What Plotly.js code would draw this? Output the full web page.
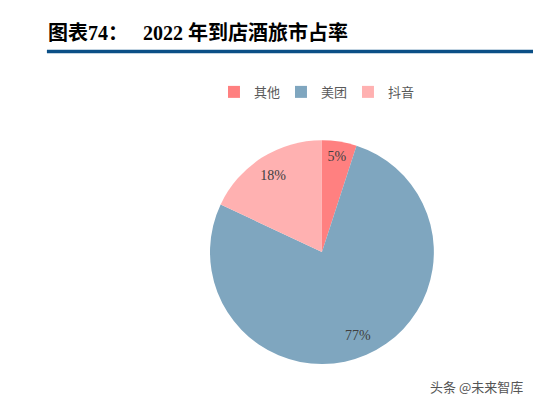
<!DOCTYPE html>
<html><head><meta charset="utf-8">
<script src="https://cdn.plot.ly/plotly-3.0.1.min.js"></script>
<style>html,body{margin:0;padding:0;background:#fff;}#c{width:533px;height:405px;}</style>
</head><body><div id="c"></div>
<script>
const categories = ['其他', '美团', '抖音'];
const shares = [5, 77, 18];
const labelsText = ['5%', '77%', '18%'];
const colors = ['#FF8080', '#7FA6BF', '#FFB1B1'];

const dom = {x: [0.394, 0.814], y: [0.1, 0.655]};

const pieMain = {
  type: 'pie', labels: categories, values: shares, sort: false,
  direction: 'clockwise', rotation: 0, domain: dom,
  marker: {colors: colors, line: {width: 0}},
  textinfo: 'none', hoverinfo: 'none'
};
const pieText = {
  type: 'pie', labels: categories, values: shares, sort: false,
  direction: 'clockwise', rotation: 0, domain: dom, hole: 0.62,
  marker: {colors: ['rgba(0,0,0,0)','rgba(0,0,0,0)','rgba(0,0,0,0)'], line: {width: 0}},
  text: labelsText, textinfo: 'text', textposition: 'inside',
  insidetextorientation: 'horizontal',
  textfont: {family: 'Liberation Serif', size: 14, color: '#404040'},
  showlegend: false, hoverinfo: 'none'
};

const layout = {
  width: 533, height: 405,
  margin: {l: 0, r: 0, t: 0, b: 0},
  paper_bgcolor: '#fff',
  showlegend: true,
  legend: {orientation: 'h', x: 0.59, xanchor: 'center', y: 0.773, yanchor: 'middle',
    font: {family: 'Noto Sans CJK SC', size: 13, color: '#595959'},
    itemwidth: 30, entrywidth: 22, entrywidthmode: 'pixels', traceorder: 'normal'},
  title: {
    text: '<b>图表<span style="font-family:Liberation Serif">74</span>：<span style="font-family:Liberation Serif">   2022 </span>年到店酒旅市占率</b>',
    x: 0.09, xanchor: 'left', y: 0.918, yanchor: 'middle',
    font: {family: 'Noto Sans CJK SC', size: 20, color: '#000'}
  },
  shapes: [{type: 'line', xref: 'paper', yref: 'paper', x0: 0.088, x1: 1, y0: 0.873, y1: 0.873,
    line: {color: '#0B4F86', width: 3.5}}],
  annotations: [{text: '头条 @未来智库', xref: 'paper', yref: 'paper', x: 0.985, y: 0.045,
    xanchor: 'right', yanchor: 'middle', showarrow: false,
    font: {family: 'Noto Sans CJK SC', size: 13, color: '#555'}}]
};

Plotly.newPlot('c', [pieMain, pieText], layout, {staticPlot: true});
</script></body></html>
